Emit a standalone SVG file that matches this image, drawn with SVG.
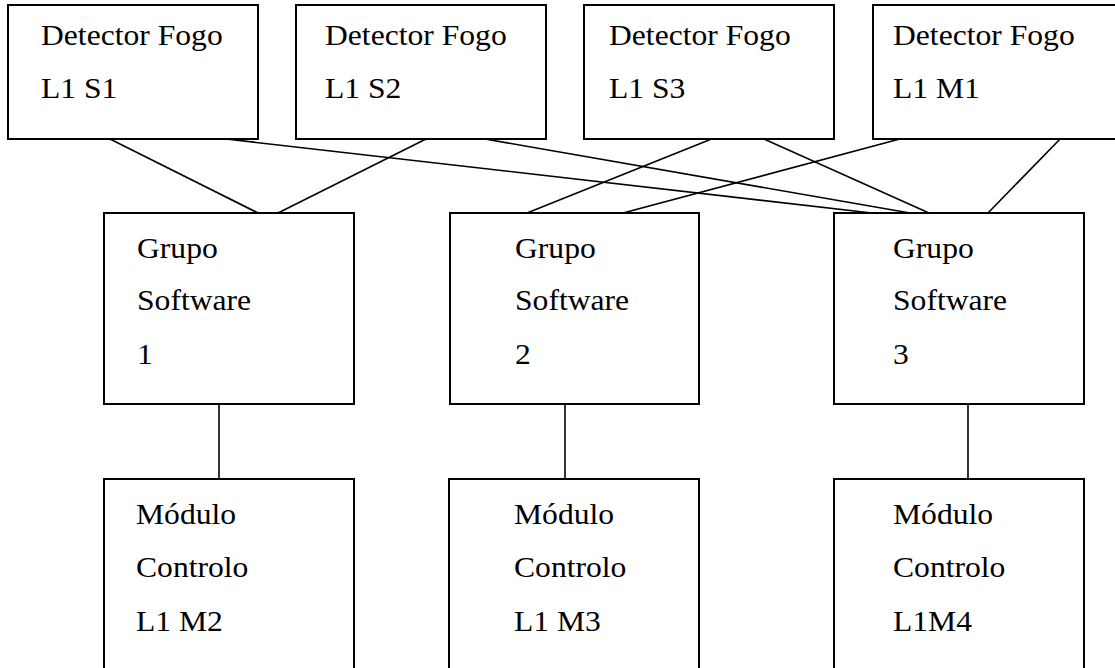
<svg xmlns="http://www.w3.org/2000/svg" width="1115" height="668" viewBox="0 0 1115 668">
  <style>
    .box { fill: #ffffff; stroke: #000000; stroke-width: 2; }
    .link { stroke: #000000; stroke-width: 1.6; fill: none; }
    .lbl { font-family: "Liberation Serif", "Times New Roman", serif; font-size: 29px; fill: #000000; }
  </style>
  <rect width="1115" height="668" fill="#ffffff"/>

  <!-- connectors -->
  <g id="connectors">
    <line class="link" x1="104" y1="136" x2="258" y2="213"/>
    <line class="link" x1="432" y1="136" x2="278" y2="213"/>
    <line class="link" x1="200" y1="136" x2="872" y2="213"/>
    <line class="link" x1="468" y1="136" x2="910" y2="213"/>
    <line class="link" x1="719" y1="136" x2="527" y2="213"/>
    <line class="link" x1="757" y1="136" x2="929" y2="213"/>
    <line class="link" x1="911" y1="136" x2="623" y2="213"/>
    <line class="link" x1="1063" y1="136" x2="988" y2="213"/>
    <line class="link" x1="219" y1="404" x2="219" y2="479"/>
    <line class="link" x1="565" y1="404" x2="565" y2="479"/>
    <line class="link" x1="968" y1="404" x2="968" y2="479"/>
  </g>

  <!-- detectors -->
  <g id="det-s1">
    <rect class="box" x="8" y="5" width="250" height="134"/>
    <text class="lbl" transform="translate(41 45) scale(1.09 1)">Detector Fogo</text>
    <text class="lbl" transform="translate(41 98) scale(1.09 1)">L1 S1</text>
  </g>
  <g id="det-s2">
    <rect class="box" x="296" y="5" width="250" height="134"/>
    <text class="lbl" transform="translate(325 45) scale(1.09 1)">Detector Fogo</text>
    <text class="lbl" transform="translate(325 98) scale(1.09 1)">L1 S2</text>
  </g>
  <g id="det-s3">
    <rect class="box" x="584" y="5" width="250" height="134"/>
    <text class="lbl" transform="translate(609 45) scale(1.09 1)">Detector Fogo</text>
    <text class="lbl" transform="translate(609 98) scale(1.09 1)">L1 S3</text>
  </g>
  <g id="det-m1">
    <rect class="box" x="873" y="5" width="250" height="134"/>
    <text class="lbl" transform="translate(893 45) scale(1.09 1)">Detector Fogo</text>
    <text class="lbl" transform="translate(893 98) scale(1.09 1)">L1 M1</text>
  </g>

  <!-- software groups -->
  <g id="grupo-1">
    <rect class="box" x="104" y="213" width="250" height="191"/>
    <text class="lbl" transform="translate(137 258) scale(1.09 1)">Grupo</text>
    <text class="lbl" transform="translate(137 310) scale(1.09 1)">Software</text>
    <text class="lbl" transform="translate(137 364) scale(1.09 1)">1</text>
  </g>
  <g id="grupo-2">
    <rect class="box" x="450" y="213" width="249" height="191"/>
    <text class="lbl" transform="translate(515 258) scale(1.09 1)">Grupo</text>
    <text class="lbl" transform="translate(515 310) scale(1.09 1)">Software</text>
    <text class="lbl" transform="translate(515 364) scale(1.09 1)">2</text>
  </g>
  <g id="grupo-3">
    <rect class="box" x="834" y="213" width="250" height="191"/>
    <text class="lbl" transform="translate(893 258) scale(1.09 1)">Grupo</text>
    <text class="lbl" transform="translate(893 310) scale(1.09 1)">Software</text>
    <text class="lbl" transform="translate(893 364) scale(1.09 1)">3</text>
  </g>

  <!-- control modules -->
  <g id="modulo-m2">
    <rect class="box" x="104" y="479" width="250" height="200"/>
    <text class="lbl" transform="translate(136 524) scale(1.09 1)">Módulo</text>
    <text class="lbl" transform="translate(136 577) scale(1.09 1)">Controlo</text>
    <text class="lbl" transform="translate(136 631) scale(1.09 1)">L1 M2</text>
  </g>
  <g id="modulo-m3">
    <rect class="box" x="449" y="479" width="250" height="200"/>
    <text class="lbl" transform="translate(514 524) scale(1.09 1)">Módulo</text>
    <text class="lbl" transform="translate(514 577) scale(1.09 1)">Controlo</text>
    <text class="lbl" transform="translate(514 631) scale(1.09 1)">L1 M3</text>
  </g>
  <g id="modulo-m4">
    <rect class="box" x="834" y="479" width="250" height="200"/>
    <text class="lbl" transform="translate(893 524) scale(1.09 1)">Módulo</text>
    <text class="lbl" transform="translate(893 577) scale(1.09 1)">Controlo</text>
    <text class="lbl" transform="translate(893 631) scale(1.09 1)">L1M4</text>
  </g>
</svg>
